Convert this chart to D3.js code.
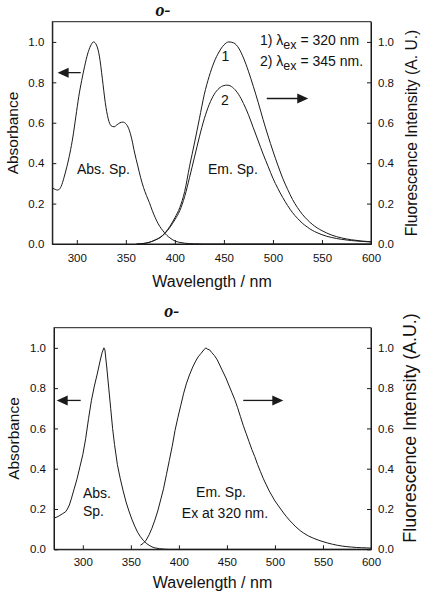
<!DOCTYPE html>
<html><head><meta charset="utf-8">
<script src="https://cdn.jsdelivr.net/npm/d3@7"></script>
<style>
html,body{margin:0;padding:0;background:#fff;}
svg{display:block;}
text{font-family:"Liberation Sans",Arial,sans-serif;fill:#111;}
</style>
</head><body>
<svg id="chart" width="428" height="601"></svg>
<script>
// ---------- data ----------
const xTicks = [300, 350, 400, 450, 500, 550, 600];
const yTicks = [0, 0.2, 0.4, 0.6, 0.8, 1.0];

// top panel: absorbance (wavelength nm, absorbance)
const topAbs = [[275,0.277],[278,0.27],[280,0.267],[282,0.27],[284,0.285],[287,0.33],[290,0.385],[293,0.45],[296,0.53],[299,0.63],[302,0.73],[305,0.81],[308,0.88],[311,0.94],[314,0.98],[317,1.0],[320,0.985],[323,0.93],[326,0.82],[329,0.70],[332,0.62],[335,0.585],[338,0.58],[341,0.59],[344,0.6],[347,0.603],[350,0.595],[353,0.57],[356,0.52],[359,0.45],[362,0.39],[365,0.33],[368,0.28],[371,0.24],[374,0.205],[377,0.165],[380,0.13],[383,0.1],[386,0.077],[389,0.058],[392,0.042],[395,0.03],[398,0.02],[401,0.013],[405,0.008],[410,0.004],[415,0.002],[420,0.001],[430,0],[600,0]];
// top panel: emission, excitation 320 nm
const topEm1 = [[361,0],[365,0.001],[370,0.004],[375,0.01],[380,0.02],[385,0.033],[390,0.055],[395,0.088],[400,0.13],[405,0.18],[410,0.26],[415,0.385],[420,0.5],[425,0.62],[430,0.74],[435,0.83],[440,0.9],[445,0.95],[450,0.985],[455,1.0],[460,0.995],[465,0.97],[470,0.92],[475,0.855],[480,0.78],[485,0.7],[490,0.615],[495,0.535],[500,0.46],[505,0.39],[510,0.325],[515,0.27],[520,0.22],[525,0.18],[530,0.147],[535,0.12],[540,0.098],[545,0.08],[550,0.066],[555,0.054],[560,0.044],[570,0.03],[580,0.021],[590,0.015],[600,0.011]];
// top panel: emission, excitation 345 nm
const topEm2 = [[361,0],[365,0.001],[370,0.004],[375,0.01],[380,0.02],[385,0.032],[390,0.053],[395,0.083],[400,0.12],[405,0.165],[410,0.235],[415,0.33],[420,0.43],[425,0.53],[430,0.62],[435,0.69],[440,0.74],[445,0.77],[450,0.784],[453,0.786],[455,0.785],[460,0.77],[465,0.74],[470,0.695],[475,0.64],[480,0.575],[485,0.51],[490,0.445],[495,0.385],[500,0.325],[505,0.275],[510,0.23],[515,0.19],[520,0.155],[525,0.127],[530,0.103],[535,0.084],[540,0.068],[545,0.056],[550,0.046],[555,0.038],[560,0.032],[570,0.023],[580,0.017],[590,0.013],[600,0.01]];

// bottom panel: absorbance
const botAbs = [[270,0.155],[273,0.16],[276,0.168],[279,0.177],[282,0.186],[284,0.2],[286,0.22],[288,0.25],[291,0.3],[294,0.35],[297,0.41],[300,0.47],[303,0.55],[306,0.65],[309,0.74],[312,0.81],[315,0.87],[318,0.935],[320,0.975],[322,1.0],[323,0.99],[325,0.9],[327,0.8],[329,0.7],[331,0.6],[333,0.52],[336,0.42],[339,0.35],[342,0.29],[345,0.235],[348,0.19],[351,0.15],[354,0.115],[357,0.085],[360,0.062],[363,0.044],[366,0.03],[369,0.02],[372,0.012],[375,0.007],[380,0.003],[385,0.001],[390,0],[600,0]];
// bottom panel: emission, excitation 320 nm
const botEm = [[360,0.02],[363,0.03],[366,0.046],[369,0.072],[372,0.105],[375,0.145],[378,0.19],[381,0.245],[384,0.3],[387,0.37],[390,0.44],[393,0.51],[396,0.59],[399,0.655],[402,0.715],[405,0.775],[408,0.825],[411,0.865],[414,0.9],[417,0.93],[420,0.955],[423,0.972],[426,0.99],[428,1.0],[430,0.993],[432,0.99],[434,0.978],[437,0.962],[440,0.94],[443,0.91],[446,0.88],[449,0.85],[452,0.815],[455,0.78],[458,0.745],[461,0.705],[464,0.66],[467,0.615],[470,0.575],[473,0.535],[476,0.495],[479,0.46],[482,0.42],[485,0.385],[488,0.35],[491,0.32],[494,0.29],[497,0.265],[500,0.24],[503,0.22],[506,0.2],[509,0.18],[512,0.162],[515,0.145],[518,0.13],[521,0.115],[524,0.102],[527,0.09],[530,0.08],[535,0.066],[540,0.055],[545,0.046],[550,0.038],[555,0.031],[560,0.025],[565,0.02],[570,0.016],[575,0.013],[580,0.011],[585,0.009],[590,0.008],[595,0.007],[600,0.006]];

// ---------- drawing ----------
const svg = d3.select("#chart");
const INK = "#1a1a1a";

function panel(o) {
  const g = svg.append("g");
  const x = d3.scaleLinear().domain(o.xDomain).range([o.left, o.right]);
  const y = d3.scaleLinear().domain([0, 1.1]).range([o.bottom, o.top]);

  // frame
  g.append("rect").attr("x", o.left).attr("y", o.top)
    .attr("width", o.right - o.left).attr("height", o.bottom - o.top)
    .attr("fill", "none").attr("stroke", INK).attr("stroke-width", 1);

  const fmt = d3.format(".1f");
  const styleAxis = sel => {
    sel.select(".domain").attr("stroke", INK);
    sel.selectAll(".tick line").attr("stroke", INK);
    sel.selectAll(".tick text").attr("fill", "#111")
      .style("font-family", '"Liberation Sans", Arial, sans-serif').style("font-size", "11.5px");
  };
  g.append("g").attr("transform", `translate(0,${o.bottom})`)
    .call(d3.axisBottom(x).tickValues(xTicks).tickSizeInner(-4).tickSizeOuter(0).tickPadding(o.xPad).tickFormat(d3.format("d")))
    .call(styleAxis);
  g.append("g").attr("transform", `translate(${o.left},0)`)
    .call(d3.axisLeft(y).tickValues(yTicks).tickSizeInner(-4).tickSizeOuter(0).tickPadding(8).tickFormat(fmt))
    .call(styleAxis);
  g.append("g").attr("transform", `translate(${o.right},0)`)
    .call(d3.axisRight(y).tickValues(yTicks).tickSizeInner(-4).tickSizeOuter(0).tickPadding(7).tickFormat(fmt))
    .call(styleAxis);

  const line = d3.line().x(d => x(d[0])).y(d => y(d[1])).curve(o.curve);
  o.series.forEach(s => {
    g.append("path").datum(s).attr("d", line)
      .attr("fill", "none").attr("stroke", INK).attr("stroke-width", 1);
  });

  // arrows
  o.arrows.forEach(a => {
    const x1 = x(a.from), x2 = x(a.to), yy = y(a.v);
    const dir = Math.sign(x2 - x1);
    g.append("line").attr("x1", x1).attr("x2", x2 - dir * 10).attr("y1", yy).attr("y2", yy)
      .attr("stroke", INK).attr("stroke-width", 1.3);
    g.append("path")
      .attr("d", `M${x2},${yy} L${x2 - dir * 11},${yy - 5} L${x2 - dir * 11},${yy + 5} Z`)
      .attr("fill", INK);
  });

  // axis titles
  g.append("text").attr("x", o.xTitle[0]).attr("y", o.xTitle[1]).attr("text-anchor", "middle")
    .style("font-size", "16px").text("Wavelength / nm");
  g.append("text").attr("transform", `translate(${o.yTitleL[0]},${o.yTitleL[1]}) rotate(-90)`)
    .attr("text-anchor", "middle").style("font-size", "15.5px").text("Absorbance");
  g.append("text").attr("transform", `translate(${o.yTitleR[0]},${o.yTitleR[1]}) rotate(-90)`)
    .attr("text-anchor", "middle").style("font-size", o.yTitleRSize).text(o.yTitleRText);

  // panel title
  g.append("text").attr("x", o.title[0]).attr("y", o.title[1]).attr("text-anchor", "middle")
    .style("font-family", '"Liberation Serif", "Times New Roman", serif')
    .style("font-weight", "bold").style("font-style", "italic").style("font-size", "18px")
    .text("o-");

  return {g, x, y};
}

// top panel
const P1 = panel({
  left: 52.3, right: 371, top: 21.7, bottom: 244, xDomain: [275, 600], xPad: 10,
  series: [topAbs, topEm1, topEm2], curve: d3.curveMonotoneX,
  arrows: [{from: 304, to: 280.4, v: 0.848}, {from: 493.7, to: 536, v: 0.72}],
  xTitle: [212, 287], yTitleL: [18, 133], yTitleR: [417, 133],
  yTitleRSize: "15.7px", yTitleRText: "Fluorescence Intensity (A. U.)",
  title: [163, 16]
});
P1.g.append("text").attr("x", 77).attr("y", 173.5).style("font-size", "14px").text("Abs. Sp.");
P1.g.append("text").attr("x", 208).attr("y", 173.5).style("font-size", "14px").text("Em. Sp.");
P1.g.append("text").attr("x", 225.5).attr("y", 60.5).attr("text-anchor", "middle").style("font-size", "14px").text("1");
P1.g.append("text").attr("x", 225).attr("y", 104.5).attr("text-anchor", "middle").style("font-size", "14px").text("2");
[["1) ", "320 nm", 45], ["2) ", "345 nm.", 66]].forEach(([pre, val, yy]) => {
  const t = P1.g.append("text").attr("x", 260).attr("y", yy).style("font-size", "14px");
  t.append("tspan").text(pre + "\u03BB");
  t.append("tspan").attr("dy", 4).style("font-size", "12.5px").text("ex");
  t.append("tspan").attr("dy", -4).text(" = " + val);
});

// bottom panel
const P2 = panel({
  left: 54, right: 371, top: 327.7, bottom: 549.3, xDomain: [270, 600], xPad: 9,
  series: [botAbs, botEm], curve: d3.curveLinear,
  arrows: [{from: 297.8, to: 272.8, v: 0.739}, {from: 467, to: 508.7, v: 0.739}],
  xTitle: [212.5, 588], yTitleL: [19, 438.5], yTitleR: [416, 428],
  yTitleRSize: "17.8px", yTitleRText: "Fluorescence Intensity (A.U.)",
  title: [171.7, 317]
});
P2.g.append("text").attr("x", 83).attr("y", 498).style("font-size", "14px").text("Abs.");
P2.g.append("text").attr("x", 83).attr("y", 516).style("font-size", "14px").text("Sp.");
P2.g.append("text").attr("x", 221).attr("y", 497).attr("text-anchor", "middle").style("font-size", "14px").text("Em. Sp.");
P2.g.append("text").attr("x", 225).attr("y", 518).attr("text-anchor", "middle").style("font-size", "14px").text("Ex at 320 nm.");
</script>
</body></html>
